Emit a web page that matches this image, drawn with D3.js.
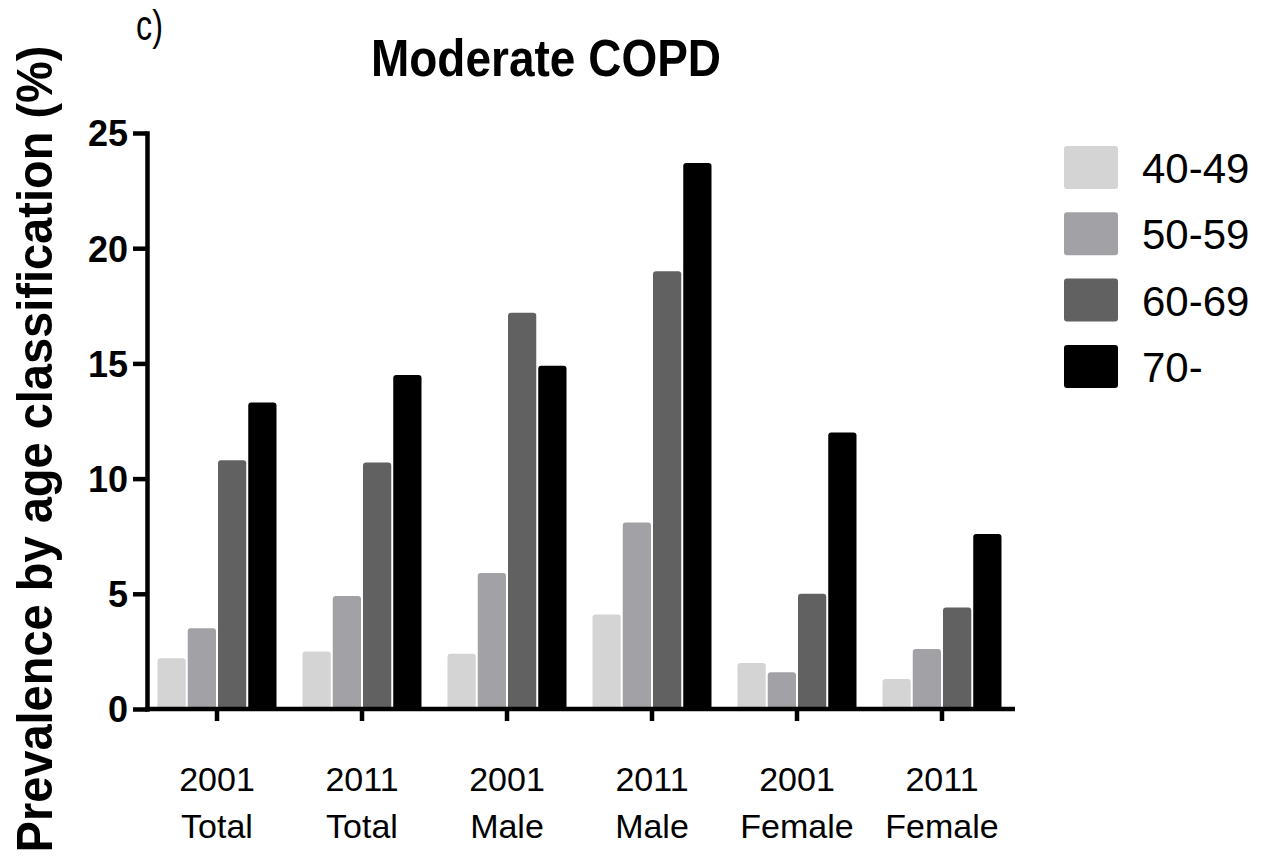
<!DOCTYPE html>
<html lang="en">
<head>
<meta charset="utf-8">
<title>Moderate COPD</title>
<script src="https://d3js.org/d3.v7.min.js"></script>
<style>
  body { margin: 0; background: #fff; font-family: "Liberation Sans", Arial, sans-serif; }
  .axis path, .axis line { stroke: #000; stroke-width: 4.5; }
</style>
</head>
<body>
<div id="chart"></div>
<script>
// data
var groups = ["2001 Total", "2011 Total", "2001 Male", "2011 Male", "2001 Female", "2011 Female"];
var ageClasses = ["40-49", "50-59", "60-69", "70-"];
var age4049 = [2.2, 2.5, 2.4, 4.1, 2.0, 1.3];
var age5059 = [3.5, 4.9, 5.9, 8.1, 1.6, 2.6];
var age6069 = [10.8, 10.7, 17.2, 19.0, 5.0, 4.4];
var age70 = [13.3, 14.5, 14.9, 23.7, 12.0, 7.6];
var yTicks = [0, 5, 10, 15, 20, 25];
var colors = ["#d4d4d4", "#a2a2a6", "#616161", "#000000"];

var series = [age4049, age5059, age6069, age70];

var width = 1263, height = 856;
var svg = d3.select("#chart").append("svg")
  .attr("width", width)
  .attr("height", height);

var x0 = d3.scaleBand()
  .domain(groups)
  .range([144.5, 1014.5])
  .paddingInner(0.1655)
  .paddingOuter(0.0828);

var x1 = d3.scaleBand()
  .domain(ageClasses)
  .range([0, x0.bandwidth()]);

var y = d3.scaleLinear()
  .domain([0, 25])
  .range([709, 133]);

// bar with rounded top corners
function barPath(x, yt, w, yb, r) {
  r = Math.min(r, (yb - yt) / 2);
  return "M" + x + "," + yb +
    "V" + (yt + r) +
    "Q" + x + "," + yt + " " + (x + r) + "," + yt +
    "H" + (x + w - r) +
    "Q" + (x + w) + "," + yt + " " + (x + w) + "," + (yt + r) +
    "V" + yb + "Z";
}

var rows = groups.map(function(g, i) {
  return { group: g, values: series.map(function(s, j) { return { age: ageClasses[j], v: s[i], c: colors[j] }; }) };
});

var gGroups = svg.append("g").selectAll("g")
  .data(rows)
  .enter().append("g")
  .attr("transform", function(d) { return "translate(" + x0(d.group) + ",0)"; });

gGroups.selectAll("path")
  .data(function(d) { return d.values; })
  .enter().append("path")
  .attr("d", function(d) {
    return barPath(x1(d.age) + 1, y(d.v), x1.bandwidth() - 2, y(0), 3);
  })
  .style("fill", function(d) { return d.c; });

// Y axis
var yAxis = svg.append("g")
  .attr("class", "axis")
  .attr("transform", "translate(147,0)")
  .call(d3.axisLeft(y).tickValues(yTicks).tickSizeInner(14).tickSizeOuter(0).tickPadding(5));
yAxis.select(".domain").attr("stroke-linecap", "square");
yAxis.selectAll("text")
  .style("font-family", "'Liberation Sans', Arial, sans-serif")
  .style("font-size", "36px")
  .style("font-weight", "bold")
  .attr("dy", "0.36em")
  .attr("fill", "#000");

// X axis
var xAxis = svg.append("g")
  .attr("class", "axis")
  .attr("transform", "translate(0,709)")
  .call(d3.axisBottom(x0).tickSizeInner(12).tickSizeOuter(0).tickFormat(""));
xAxis.select(".domain").attr("d", "M145,0H1015");

var labels = svg.append("g").selectAll("text")
  .data(groups)
  .enter().append("text")
  .attr("text-anchor", "middle")
  .style("font-size", "34px")
  .attr("fill", "#000");
labels.append("tspan")
  .attr("x", function(d) { return x0(d) + x0.bandwidth() / 2; })
  .attr("y", 791)
  .text(function(d) { return d.split(" ")[0]; });
labels.append("tspan")
  .attr("x", function(d) { return x0(d) + x0.bandwidth() / 2; })
  .attr("y", 838)
  .text(function(d) { return d.split(" ")[1]; });

// Y title
svg.append("text")
  .attr("transform", "translate(52,449) rotate(-90) scale(1,1.05)")
  .attr("text-anchor", "middle")
  .style("font-size", "47px")
  .style("font-weight", "bold")
  .text("Prevalence by age classification (%)");

// title
svg.append("text")
  .attr("transform", "translate(546,76) scale(1,1.12)")
  .attr("text-anchor", "middle")
  .style("font-size", "46px")
  .style("font-weight", "bold")
  .text("Moderate COPD");

svg.append("text")
  .attr("transform", "translate(136,40) scale(0.85,1.1)")
  .style("font-size", "38px")
  .text("c)");

// legend
var legend = svg.append("g").selectAll("g")
  .data(ageClasses)
  .enter().append("g")
  .attr("transform", function(d, i) { return "translate(1064," + (146 + i * 66.3) + ")"; });
legend.append("rect")
  .attr("width", 54)
  .attr("height", 43)
  .attr("rx", 3)
  .style("fill", function(d, i) { return colors[i]; });
legend.append("text")
  .attr("x", 78)
  .attr("y", 37)
  .style("font-size", "42px")
  .text(function(d) { return d; });
</script>
</body>
</html>
